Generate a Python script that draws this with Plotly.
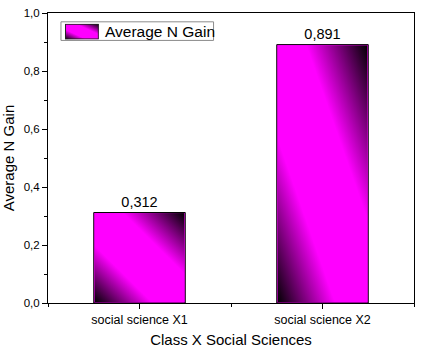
import base64
import plotly.graph_objects as go

categories = ["social science X1", "social science X2"]
values = [0.312, 0.891]
value_labels = ["0,312", "0,891"]
series_name = "Average N Gain"

FONT = "Liberation Sans, Arial, sans-serif"
BAR_WIDTH = 0.5

# plot-area geometry in pixels (used only to place the hand-built legend)
L, R, T, B = 48, 7, 9, 48
W, H = 422, 353
PW, PH = W - L - R, H - T - B


def px_x(p):
    return (p - L) / PW


def px_y(p):
    return 1 - (p - T) / PH


def gradient_uri(w, h, stroke=False):
    extra = ""
    if stroke:
        extra = (f"<rect x='0.5' y='0.5' width='{w-1}' height='{h-1}' fill='none' "
                 f"stroke='#222' stroke-width='1'/>")
    svg = (f"<svg xmlns='http://www.w3.org/2000/svg' width='{w}' height='{h}' "
           f"viewBox='0 0 {w} {h}' preserveAspectRatio='none'>"
           "<defs><linearGradient id='g' x1='0' y1='1' x2='1' y2='0'>"
           "<stop offset='0' stop-color='#000000'/>"
           "<stop offset='0.32' stop-color='#ff00ff'/>"
           "<stop offset='0.66' stop-color='#ff00ff'/>"
           "<stop offset='1' stop-color='#000000'/>"
           "</linearGradient></defs>"
           f"<rect width='{w}' height='{h}' fill='url(#g)'/>{extra}</svg>")
    return "data:image/svg+xml;base64," + base64.b64encode(svg.encode()).decode()


xpos = list(range(len(categories)))

fig = go.Figure()
fig.add_trace(go.Bar(
    x=xpos, y=values, name=series_name, width=BAR_WIDTH,
    marker=dict(color="#ff00ff", line=dict(color="#000000", width=1)),
    text=value_labels, textposition="outside", cliponaxis=False,
    textfont=dict(family=FONT, size=14.5, color="#000000"),
    showlegend=False,
))

images = []
grad = gradient_uri(100, 100)
for i, v in zip(xpos, values):
    images.append(dict(
        source=grad, xref="x", yref="y", x=i - BAR_WIDTH / 2 + 0.004, y=v - 0.002,
        sizex=BAR_WIDTH - 0.008, sizey=v - 0.004, sizing="stretch",
        xanchor="left", yanchor="top", layer="above",
    ))
# legend swatch
images.append(dict(
    source=gradient_uri(34, 16, stroke=True), xref="paper", yref="paper",
    x=px_x(65), y=px_y(20), sizex=34 / PW, sizey=16 / PH,
    sizing="stretch", xanchor="left", yanchor="top", layer="above",
))

shapes = [dict(
    type="rect", xref="paper", yref="paper",
    x0=px_x(61), x1=px_x(214), y0=px_y(18), y1=px_y(37),
    line=dict(color="#8c8c8c", width=1), fillcolor="rgba(0,0,0,0)", layer="above",
)]
annotations = [dict(
    text=series_name, xref="paper", yref="paper", x=px_x(103), y=px_y(28),
    xanchor="left", yanchor="middle", showarrow=False,
    font=dict(family=FONT, size=15.5, color="#000000"),
)]

fig.update_layout(
    width=W, height=H,
    margin=dict(l=L, r=R, t=T, b=B),
    paper_bgcolor="white", plot_bgcolor="white",
    separators=",.",
    font=dict(family=FONT, color="#000000"),
    images=images, shapes=shapes, annotations=annotations,
    showlegend=False,
)
fig.update_xaxes(
    range=[-0.5, 1.5], tickvals=xpos, ticktext=categories,
    showline=True, linecolor="#000000", linewidth=1, mirror=True,
    ticks="outside", ticklen=5, tickcolor="#000000",
    minor=dict(ticks="outside", ticklen=3, tickvals=[-0.5, 0.5, 1.5],
               tickcolor="#000000", showgrid=False),
    showgrid=False, zeroline=False,
    tickfont=dict(family=FONT, size=12.5, color="#000000"),
    title=dict(text="Class X Social Sciences", font=dict(family=FONT, size=15), standoff=8),
)
fig.update_yaxes(
    range=[0, 1.0], dtick=0.2, tickformat=".1f",
    showline=True, linecolor="#000000", linewidth=1, mirror=True,
    ticks="outside", ticklen=5, tickcolor="#000000",
    minor=dict(ticks="outside", ticklen=3, dtick=0.1, tickcolor="#000000", showgrid=False),
    showgrid=False, zeroline=False,
    tickfont=dict(family=FONT, size=11.5, color="#000000"),
    title=dict(text="Average N Gain", font=dict(family=FONT, size=15), standoff=6),
)

fig.write_html("out.html")
